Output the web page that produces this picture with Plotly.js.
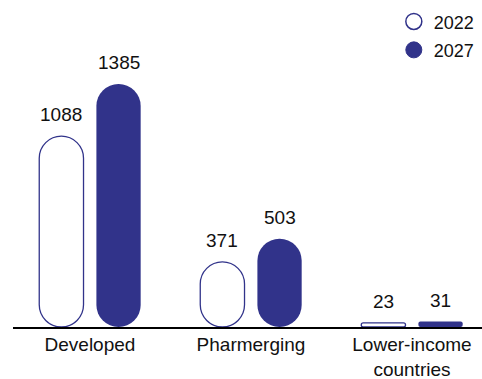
<!DOCTYPE html>
<html>
<head>
<meta charset="utf-8">
<script src="https://cdn.plot.ly/plotly-3.0.1.min.js"></script>
<style>
  html, body { margin: 0; padding: 0; background: #fff; }
  #chart { width: 482px; height: 379px; }
</style>
</head>
<body>
<div id="chart"></div>
<script>
// Market size by region, 2022 vs 2027
const categories = ['Developed', 'Pharmerging', 'Lower-income<br>countries'];
const seriesNames = ['2022', '2027'];
const values2022 = [1088, 371, 23];
const values2027 = [1385, 503, 31];

const NAVY = '#31338a';
const FONT = '"Liberation Sans", Arial, Helvetica, sans-serif';
const BAR_W = 0.275;
const OFFSETS = [-0.315, 0.04];

// With an explicit base, rounded bars get both ends rounded: pill shapes.
function pillTrace(name, values, fill, lineColor, lineWidth, offset) {
  return {
    type: 'bar', name: name, x: categories, y: values,
    base: values.map(() => 0),
    offset: offset, width: BAR_W,
    showlegend: false, hoverinfo: 'skip',
    marker: { color: fill, line: { color: lineColor, width: lineWidth }, cornerradius: '50%' }
  };
}

// Round legend symbols
const legendTraces = [
  { name: seriesNames[0], legendgroup: 'a', marker: { color: '#fff', line: { color: NAVY, width: 1.5 } } },
  { name: seriesNames[1], legendgroup: 'b', marker: { color: NAVY, line: { color: NAVY, width: 1 } } }
].map(t => ({
  type: 'scatter', mode: 'markers', x: [categories[0]], y: [null],
  hoverinfo: 'skip', showlegend: true,
  name: t.name, legendgroup: t.legendgroup,
  marker: Object.assign({ symbol: 'circle', size: 16 }, t.marker)
}));

const traces = [
  pillTrace(seriesNames[0], values2022, '#ffffff', NAVY, 1.3, OFFSETS[0]),
  pillTrace(seriesNames[1], values2027, NAVY, NAVY, 0, OFFSETS[1])
].concat(legendTraces);

// Value labels above each bar
const annotations = [];
[values2022, values2027].forEach((vals, s) => {
  vals.forEach((v, i) => {
    annotations.push({
      x: i + OFFSETS[s] + BAR_W / 2, y: v, xref: 'x', yref: 'y',
      text: String(v), showarrow: false, yanchor: 'bottom', yshift: 9,
      font: { family: FONT, size: 19, color: '#111' }
    });
  });
});

const layout = {
  width: 482, height: 379,
  margin: { l: 13, r: 0, t: 0, b: 52 },
  paper_bgcolor: '#fff', plot_bgcolor: '#fff',
  barmode: 'overlay',
  font: { family: FONT, size: 19, color: '#111' },
  xaxis: {
    type: 'category', range: [-0.478, 2.435],
    showline: true, linecolor: '#000', linewidth: 1.5,
    ticks: '', showgrid: false, zeroline: false, fixedrange: true,
    tickfont: { family: FONT, size: 19, color: '#111' }
  },
  yaxis: { visible: false, range: [0, 1864], fixedrange: true, showgrid: false, zeroline: false },
  showlegend: true,
  legend: {
    x: 0.812, xanchor: 'left', y: 0.99, yanchor: 'top',
    font: { family: FONT, size: 18, color: '#111' },
    tracegroupgap: 2, bgcolor: 'rgba(0,0,0,0)'
  },
  annotations: annotations
};

Plotly.newPlot('chart', traces, layout, { displayModeBar: false, staticPlot: true });
</script>
</body>
</html>
